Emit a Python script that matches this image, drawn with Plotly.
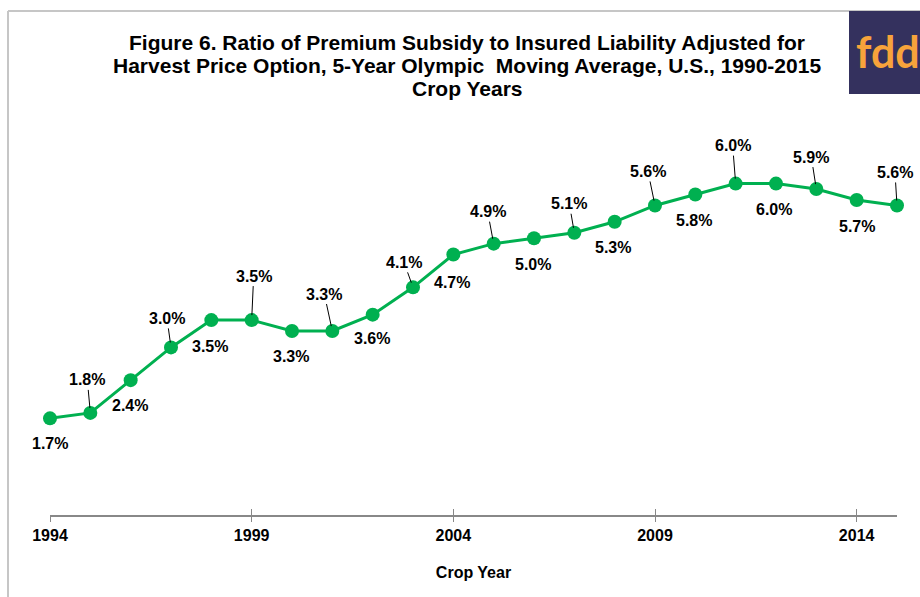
import plotly.graph_objects as go

# ---- data ----
years = list(range(1994, 2016))
ratio_pct = [1.7, 1.8, 2.4, 3.0, 3.5, 3.5, 3.3, 3.3, 3.6, 4.1, 4.7,
             4.9, 5.0, 5.1, 5.3, 5.6, 5.8, 6.0, 6.0, 5.9, 5.7, 5.6]
tick_years = [1994, 1999, 2004, 2009, 2014]
title_lines = [
    "Figure 6. Ratio of Premium Subsidy to Insured Liability Adjusted for",
    "Harvest Price Option, 5-Year Olympic  Moving Average, U.S., 1990-2015",
    "Crop Years",
]
x_title = "Crop Year"

# ---- label placement (pixel offsets from each point; True = leader line) ----
label_offsets = [
    (0, 25, False), (-3, -33, True), (-1, 25, False), (-4, -29, True),
    (-1, 26, False), (2, -44, True), (-1, 25, False), (-8, -37, True),
    (-1, 24, False), (-9, -25, True), (-1, 28, False), (-6, -32, True),
    (-1, 26, False), (-5, -29, True), (-2, 26, False), (-7, -34, True),
    (-1, 26, False), (-3, -38, True), (-2, 26, False), (-5, -32, True),
    (0, 27, False), (-2, -33, True),
]
title_line_centers = [42, 65, 88]  # px from top

W, H = 920, 597
ML, MR, MT, MB = 50, 23, 129, 82
FONT = "Liberation Sans, Arial, sans-serif"
GREEN = "#00b050"

fig = go.Figure()
fig.add_trace(go.Scatter(
    x=years, y=ratio_pct, mode="lines+markers",
    line=dict(color=GREEN, width=3),
    marker=dict(color=GREEN, size=14),
    cliponaxis=False, hoverinfo="skip", showlegend=False,
))
# invisible trace to carry the overlay axis (ticks crossing the axis line)
fig.add_trace(go.Scatter(x=[years[0]], y=[ratio_pct[0]], xaxis="x2",
                         mode="markers", marker=dict(opacity=0),
                         hoverinfo="skip", showlegend=False))

annotations = []
for yr, v, (dx, dy, leader) in zip(years, ratio_pct, label_offsets):
    txt = f"{v:.1f}%"
    if leader:
        annotations.append(dict(
            x=yr, y=v, xref="x", yref="y", text=txt, showarrow=True,
            ax=dx, ay=dy, axref="pixel", ayref="pixel",
            arrowhead=0, arrowwidth=1, arrowcolor="#000", standoff=5,
            font=dict(family=FONT, size=16, color="#000", weight="bold"),
        ))
    else:
        annotations.append(dict(
            x=yr, y=v, xref="x", yref="y", text=txt, showarrow=False,
            xshift=dx, yshift=-dy,
            font=dict(family=FONT, size=16, color="#000", weight="bold"),
        ))

pw = W - ML - MR
ph = H - MT - MB
def px_x(px):
    return (px - ML) / pw
def px_y(py):
    return (H - MB - py) / ph

# title lines
for line, cy in zip(title_lines, title_line_centers):
    annotations.append(dict(
        x=px_x(467), y=px_y(cy), xref="paper", yref="paper",
        xanchor="center", yanchor="middle", text=line, showarrow=False,
        font=dict(family=FONT, size=21, color="#000", weight="bold"),
    ))

# logo text
annotations.append(dict(
    x=px_x(854), y=px_y(52), xref="paper", yref="paper", xanchor="left",
    yanchor="middle", text="fdd", showarrow=False,
    font=dict(family="Lato, sans-serif", size=43, color="#f7a33b", weight="bold"),
))

shapes = [
    # outer gray frame
    dict(type="line", xref="paper", yref="paper",
         x0=px_x(8), x1=px_x(8), y0=px_y(11), y1=px_y(H + 5),
         line=dict(color="#c6c6c6", width=2), layer="below"),
    dict(type="line", xref="paper", yref="paper",
         x0=px_x(8), x1=px_x(W + 5), y0=px_y(11), y1=px_y(11),
         line=dict(color="#c6c6c6", width=2), layer="below"),
    # logo box
    dict(type="rect", xref="paper", yref="paper",
         x0=px_x(849), x1=px_x(W + 5), y0=px_y(94), y1=px_y(11),
         fillcolor="#34315e", line=dict(width=0), layer="below"),
]

fig.update_layout(
    width=W, height=H,
    margin=dict(l=ML, r=MR, t=MT, b=MB),
    paper_bgcolor="white", plot_bgcolor="white",
    xaxis=dict(
        range=[1994, 2015], tickvals=tick_years,
        ticktext=[str(t) for t in tick_years],
        ticks="outside", ticklen=5, tickwidth=1, tickcolor="#888",
        showline=True, linecolor="#888", linewidth=2,
        showgrid=False, zeroline=False,
        tickfont=dict(family=FONT, size=16, color="#000", weight="bold"),
        title=dict(text=x_title, standoff=24,
                   font=dict(family=FONT, size=16, color="#000", weight="bold")),
        fixedrange=True,
    ),
    xaxis2=dict(
        range=[1994, 2015], tickvals=tick_years, overlaying="x", anchor="y",
        side="bottom", ticks="inside", ticklen=6, tickwidth=1, tickcolor="#888",
        showticklabels=False, showline=False, showgrid=False, zeroline=False,
    ),
    yaxis=dict(range=[-0.07, 7.0], visible=False, fixedrange=True),
    annotations=annotations,
    shapes=shapes,
    showlegend=False,
)

fig.write_html("out.html")
